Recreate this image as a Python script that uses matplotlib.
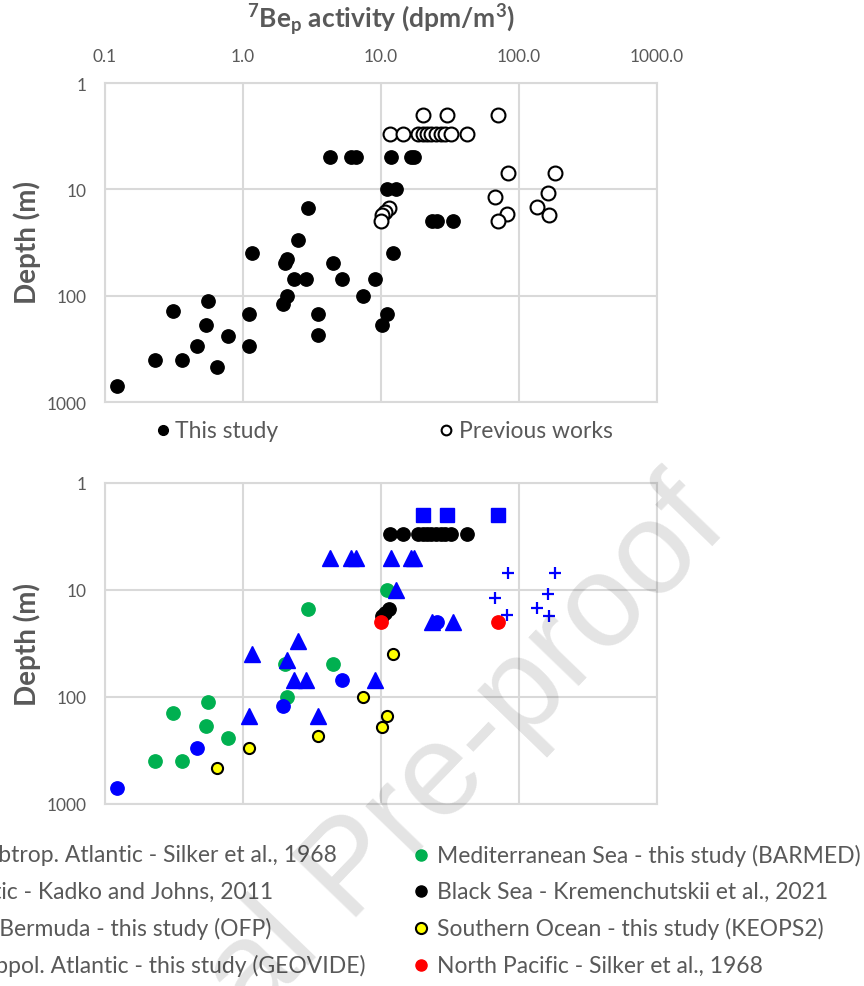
import matplotlib.pyplot as plt
from matplotlib.lines import Line2D

plt.rcParams['font.family'] = ['Lato', 'DejaVu Sans']
plt.rcParams['mathtext.fontset'] = 'custom'
plt.rcParams['mathtext.rm'] = 'Lato'
plt.rcParams['mathtext.bf'] = 'Lato:bold'
plt.rcParams['mathtext.default'] = 'bf'

# ---- data: 7Be activity (dpm/m3) and depth (m) per data set ----
subtrop_x = [82.8, 182, 163, 67, 134, 81.5, 166]
subtrop_d = [7, 7, 10.9, 11.8, 14.7, 17, 17.6]

med_x = [11.0, 2.94, 2.0, 4.5, 2.08, 0.555, 0.313, 0.537, 0.783, 0.23, 0.363]
med_d = [10, 15, 49, 49, 100, 112, 140, 187, 241, 399, 399]

kadko_x = [20.3, 30.3, 71]
kadko_d = [2, 2, 2]

black_x = [11.6, 14.5, 18.6, 20.0, 21.5, 23.0, 25.0, 27.0, 29.0, 32.2, 41.8, 11.5, 10.7, 10.1]
black_d = [3, 3, 3, 3, 3, 3, 3, 3, 3, 3, 3, 15, 16.5, 17.6]

ofp_x = [25.3, 5.2, 1.95, 0.467, 0.123]
ofp_d = [20, 70, 121, 299, 705]

keops_x = [12.3, 7.4, 11.0, 10.1, 3.47, 1.10, 0.648]
keops_d = [40, 100, 150, 190, 232, 299, 464]

geovide_x = [4.27, 6.1, 6.6, 11.9, 16.4, 17.3, 12.8, 23.6, 33.3, 2.5, 1.16, 2.1, 2.36, 2.84, 9.0, 1.10, 3.47]
geovide_d = [5, 5, 5, 5, 5, 5, 10, 20, 20, 30, 40, 45, 70, 70, 70, 150, 150]

pacific_x = [10.0, 71]
pacific_d = [20, 20]

xticks = [0.1, 1, 10, 100, 1000]
xtick_labels = ['0.1', '1.0', '10.0', '100.0', '1000.0']
yticks = [1, 10, 100, 1000]
ytick_labels = ['1', '10', '100', '1000']

left_labels = ['Subtrop. Atlantic - Silker et al., 1968',
               'N. Atlantic - Kadko and Johns, 2011',
               'Off Bermuda - this study (OFP)',
               'Subpol. Atlantic - this study (GEOVIDE)']
right_labels = ['Mediterranean Sea - this study (BARMED)',
                'Black Sea - Kremenchutskii et al., 2021',
                'Southern Ocean - this study (KEOPS2)',
                'North Pacific - Silker et al., 1968']

# "this study" = OFP + GEOVIDE + BARMED + KEOPS2, the rest are previous works
this_x = geovide_x + ofp_x + med_x + keops_x
this_d = geovide_d + ofp_d + med_d + keops_d
prev_x = subtrop_x + kadko_x + black_x + pacific_x
prev_d = subtrop_d + kadko_d + black_d + pacific_d

grey = '#595959'
gridc = '#d9d9d9'
W, H = 864, 987

fig = plt.figure(figsize=(8.64, 9.87), dpi=100)
ax1 = fig.add_axes([105 / W, 1 - 403 / H, 552 / W, 319 / H])
ax2 = fig.add_axes([105 / W, 1 - 805 / H, 552 / W, 321 / H])


def style(ax, top_labels):
    ax.set_xscale('log')
    ax.set_yscale('log')
    ax.set_xlim(0.1, 1000)
    ax.set_ylim(1000, 1)
    ax.set_xticks(xticks)
    ax.set_yticks(yticks)
    ax.minorticks_off()
    ax.set_yticklabels(ytick_labels)
    ax.grid(True, color=gridc, lw=1.5)
    ax.set_axisbelow(True)
    for s in ax.spines.values():
        s.set_color(gridc)
        s.set_linewidth(1.5)
    ax.tick_params(length=0, colors=grey, labelsize=12.5)
    ax.tick_params(axis='y', pad=13)
    if top_labels:
        ax.xaxis.tick_top()
        ax.set_xticklabels(xtick_labels)
        ax.tick_params(axis='x', pad=14)
    else:
        ax.set_xticklabels([])


style(ax1, True)
style(ax2, False)

# top panel
ax1.plot(this_x, this_d, 'o', color='black', ms=9.6, ls='none', zorder=3)
ax1.plot(prev_x, prev_d, 'o', mfc='white', mec='black', mew=1.5, ms=10, ls='none', zorder=4)

# bottom panel, in series order
ax2.plot(subtrop_x, subtrop_d, '+', color='#0000ff', ms=9, mew=1.6, ls='none', zorder=3)
ax2.plot(med_x, med_d, 'o', color='#00b050', ms=9.6, ls='none', zorder=4)
ax2.plot(kadko_x, kadko_d, 's', color='#0000ff', ms=9.4, ls='none', zorder=5)
ax2.plot(black_x, black_d, 'o', color='black', ms=9.6, ls='none', zorder=6)
ax2.plot(ofp_x, ofp_d, 'o', color='#0000ff', ms=9.6, ls='none', zorder=7)
ax2.plot(keops_x, keops_d, 'o', mfc='#ffff00', mec='black', mew=1.5, ms=8, ls='none', zorder=8)
ax2.plot(geovide_x, geovide_d, '^', color='#0000ff', ms=11, ls='none', zorder=9)
ax2.plot(pacific_x, pacific_d, 'o', color='#ff0000', ms=9.6, ls='none', zorder=10)

# titles
fig.text(381 / W, 1 - 20 / H, '$^{7}$Be$_{p}$ activity (dpm/m$^{3}$)', ha='center', va='center',
         fontsize=19, fontweight='bold', color=grey)
fig.text(27 / W, 1 - 243 / H, 'Depth (m)', rotation=90, ha='center', va='center',
         fontsize=20, fontweight='bold', color=grey)
fig.text(27 / W, 1 - 645 / H, 'Depth (m)', rotation=90, ha='center', va='center',
         fontsize=20, fontweight='bold', color=grey)

# top legend
fig.add_artist(Line2D([163 / W], [1 - 431 / H], marker='o', color='black', ms=7, transform=fig.transFigure))
fig.text(175 / W, 1 - 431 / H, 'This study', ha='left', va='center', fontsize=16.5, color=grey)
fig.add_artist(Line2D([446 / W], [1 - 431 / H], marker='o', mfc='white', mec='black', mew=1.5, ms=7,
                      transform=fig.transFigure))
fig.text(459 / W, 1 - 431 / H, 'Previous works', ha='left', va='center', fontsize=16.5, color=grey)

# bottom legend (left column runs off the left edge)
rows = [856, 892, 929, 966]
left_ends = [337, 273, 271, 365]
for lab, y, xe in zip(left_labels, rows, left_ends):
    fig.text(xe / W, 1 - y / H, lab, ha='right', va='center', fontsize=16.5, color=grey)

right_styles = [dict(color='#00b050'), dict(color='black'),
                dict(mfc='#ffff00', mec='black', mew=1.5), dict(color='#ff0000')]
for lab, y, st in zip(right_labels, rows, right_styles):
    fig.add_artist(Line2D([421 / W], [1 - y / H], marker='o', ms=8, ls='none',
                          transform=fig.transFigure, **st))
    fig.text(437 / W, 1 - y / H, lab, ha='left', va='center', fontsize=16.5, color=grey)

# watermark
fig.text(377 / W, 1 - 895 / H, 'Journal Pre-proof', rotation=46, rotation_mode='anchor',
         ha='center', va='baseline', fontsize=95, color='black', alpha=0.11,
         family='Liberation Sans', zorder=20)

fig.savefig('out.png', dpi=100)
